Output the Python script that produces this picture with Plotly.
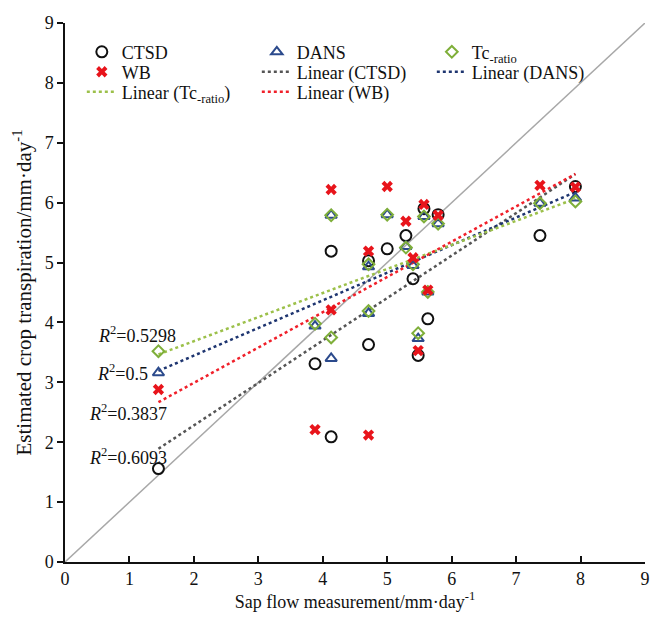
import numpy as np
import plotly.graph_objects as go

# Sap flow measurement (x) for each site
sap_flow = [1.45, 3.88, 4.13, 4.13, 4.71, 4.71, 5.00, 5.29, 5.40, 5.48, 5.57, 5.63, 5.79, 7.37, 7.92]
# Estimated crop transpiration by method
ctsd = [1.56, 3.31, 5.19, 2.09, 5.03, 3.63, 5.23, 5.45, 4.73, 3.45, 5.90, 4.06, 5.80, 5.45, 6.27]
dans = [3.16, 3.94, 5.79, 3.40, 4.93, 4.15, 5.80, 5.27, 4.95, 3.73, 5.77, 4.51, 5.65, 5.99, 6.08]
tc_ratio = [3.52, 3.98, 5.79, 3.75, 4.97, 4.19, 5.80, 5.25, 4.97, 3.82, 5.77, 4.51, 5.65, 5.99, 6.02]
wb = [2.88, 2.21, 6.22, 4.21, 5.19, 2.12, 6.27, 5.69, 5.08, 3.53, 5.97, 4.54, 5.79, 6.29, 6.26]

r2_labels = ["0.5298", "0.5", "0.3837", "0.6093"]
x_ticks = [0, 1, 2, 3, 4, 5, 6, 7, 8, 9]
y_ticks = [0, 1, 2, 3, 4, 5, 6, 7, 8, 9]

FONT = "Liberation Serif"
C_CTSD = "#111111"
C_DANS = "#2B4A8C"
C_TC = "#7FAF3A"
C_WB = "#E8141B"
L_CTSD = "#555555"
L_DANS = "#1E3570"
L_TC = "#9CC04A"
L_WB = "#F0202A"

fig = go.Figure()

# 1:1 line
fig.add_trace(go.Scatter(x=[0, 9], y=[0, 9], mode="lines",
                         line=dict(color="#A8A8A8", width=1.5),
                         showlegend=False, hoverinfo="skip"))

x_arr = np.array(sap_flow)
xs = np.array([x_arr.min(), x_arr.max()])

def fit(vals):
    k, b = np.polyfit(x_arr, np.array(vals), 1)
    return k * xs + b

# name, values, symbol, colour, size, line colour, line name, marker legend, line legend
series = [
    ("CTSD", ctsd, "circle-open", C_CTSD, 11, L_CTSD, "Linear (CTSD)", "legend", "legend2"),
    ("DANS", dans, "triangle-up-open", C_DANS, 10, L_DANS, "Linear (DANS)", "legend", "legend2"),
    ("Tc<sub>-ratio</sub>", tc_ratio, "diamond-open", C_TC, 9, L_TC, "Linear (Tc<sub>-ratio</sub>)", "legend", "legend3"),
    ("WB", wb, "x", C_WB, 10, L_WB, "Linear (WB)", "legend2", "legend3"),
]

for name, vals, sym, col, size, lcol, lname, mleg, lleg in series:
    fig.add_trace(go.Scatter(x=xs, y=fit(vals), mode="lines", name=lname, legend=lleg,
                             line=dict(color=lcol, width=2.5, dash="dot")))

for name, vals, sym, col, size, lcol, lname, mleg, lleg in series:
    if sym == "x":
        mk = dict(symbol=sym, size=size, color=col, line=dict(width=0))
    else:
        mk = dict(symbol=sym, size=size, color=col, line=dict(width=2, color=col))
    fig.add_trace(go.Scatter(x=sap_flow, y=vals, mode="markers", name=name, legend=mleg, marker=mk))

# legend order within each row
order = {"CTSD": 1, "DANS": 2, "Tc<sub>-ratio</sub>": 3,
         "WB": 1, "Linear (CTSD)": 2, "Linear (DANS)": 3,
         "Linear (Tc<sub>-ratio</sub>)": 1, "Linear (WB)": 2}
for t in fig.data:
    if t.name in order:
        t.legendrank = order[t.name]

ann_pos = [(1.12, 3.80, "center"), (1.325, 3.17, "right"), (0.976, 2.50, "center"), (0.976, 1.76, "center")]
for (ax, ay, anc), lab in zip(ann_pos, r2_labels):
    fig.add_annotation(x=ax, y=ay, xref="x", yref="y", xanchor=anc, yanchor="middle",
                       text="<i>R</i><sup>2</sup>=" + lab, showarrow=False,
                       font=dict(family=FONT, size=18, color="#111111"))

axis_common = dict(
    range=[0, 9], showgrid=False, zeroline=False, showline=True,
    linecolor="#111111", linewidth=1.5, ticklen=6, tickwidth=1.5, tickcolor="#111111",
    tickfont=dict(family=FONT, size=18, color="#111111"),
)
fig.update_xaxes(**axis_common, tickvals=x_ticks, ticks="inside",
                 title=dict(text="Sap flow measurement/mm·day<sup>-1</sup>",
                            font=dict(family=FONT, size=18, color="#111111"), standoff=6))
fig.update_yaxes(**axis_common, tickvals=y_ticks, ticks="outside",
                 title=dict(text="Estimated crop transpiration/mm·day<sup>-1</sup>",
                            font=dict(family=FONT, size=21, color="#111111"), standoff=7))

leg_common = dict(orientation="h", x=0.029, xanchor="left", yanchor="middle",
                  entrywidth=130, entrywidthmode="pixels",
                  font=dict(family=FONT, size=18, color="#111111"),
                  bgcolor="rgba(0,0,0,0)", itemwidth=30)

fig.update_layout(
    width=650, height=617,
    margin=dict(l=65, r=5, t=23, b=55, autoexpand=False),
    plot_bgcolor="white", paper_bgcolor="white",
    font=dict(family=FONT, color="#111111"),
    legend=dict(**leg_common, y=0.946),
    legend2=dict(**leg_common, y=0.909),
    legend3=dict(**leg_common, y=0.872),
)

fig.write_html("out.html", config={"displayModeBar": False},
               post_script="document.body.style.margin='0px';")
